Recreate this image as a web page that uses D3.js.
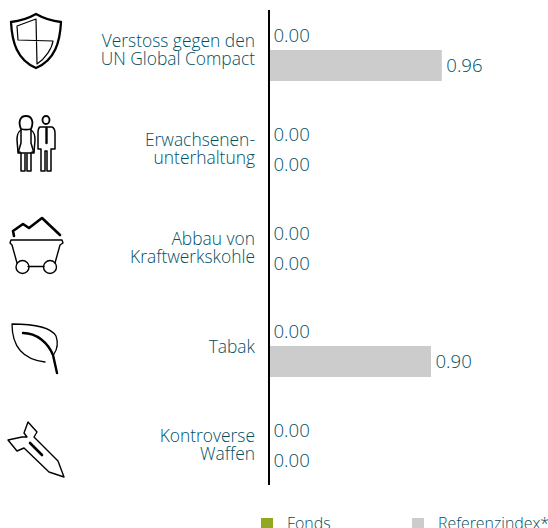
<!DOCTYPE html>
<html>
<head>
<meta charset="utf-8">
<script src="https://cdn.jsdelivr.net/npm/d3@7"></script>
<style>
  html, body { margin: 0; padding: 0; background: #fff; overflow: hidden; }
  text { font-family: "Open Sans", sans-serif; font-weight: 300; fill: #004f63; }
  .label { font-size: 17.4px; }
  .value { font-size: 18.6px; }
  .legend { font-size: 15.9px; }
</style>
</head>
<body>
<div id="chart"></div>
<script>
const categories = ["Verstoss gegen den\nUN Global Compact", "Erwachsenen-\nunterhaltung", "Abbau von\nKraftwerkskohle", "Tabak", "Kontroverse\nWaffen"];
const series = ["Fonds", "Referenzindex*"];
const fonds = [0, 0, 0, 0, 0];
const referenz = [0.96, 0, 0, 0.90, 0];
const colors = ["#94a81f", "#cccccc"];

const width = 548, height = 528;
const x0 = 269;

const svg = d3.select("#chart").append("svg")
  .attr("width", width)
  .attr("height", height)
  .style("display", "block");

let x = d3.scaleLinear().domain([0, 1]).range([x0, x0 + 180]);
let y = d3.scaleBand().domain(categories).range([0, 493.75]);
let inner = d3.scaleBand().domain(series).range([20, 80]); // 2 bars per group

// bars + value labels
series.forEach((s, i) => {
  const vals = i === 0 ? fonds : referenz;
  const rows = categories.map((c, k) => ({ c, v: vals[k] }));
  const top = d => Math.round(y(d.c) + inner(s));

  svg.append("g").selectAll("rect")
    .data(rows)
    .join("rect")
    .attr("x", x(0))
    .attr("y", d => top(d))
    .attr("width", d => x(d.v) - x(0))
    .attr("height", 31)
    .attr("fill", colors[i]);

  svg.append("g").selectAll("text")
    .data(rows)
    .join("text")
    .attr("class", "value")
    .attr("x", d => x(d.v) + 4.5)
    .attr("y", d => top(d) + 22)
    .text(d => d.v.toFixed(2));
});

// axis line
svg.append("line")
  .attr("x1", x0).attr("x2", x0)
  .attr("y1", 10).attr("y2", 485)
  .attr("stroke", "#000")
  .attr("stroke-width", 2);

// category labels, right aligned
categories.forEach(c => {
  const lines = c.split("\n");
  const mid = y(c) + y.bandwidth() / 2;
  svg.append("text")
    .attr("class", "label")
    .attr("text-anchor", "end")
    .selectAll("tspan")
    .data(lines)
    .join("tspan")
    .attr("x", 255)
    .attr("y", (d, i) => mid + 7 + (i - (lines.length - 1) / 2) * 18)
    .text(d => d);
});

// icons
const ink = { fill: "none", stroke: "#000", "stroke-linejoin": "round", "stroke-linecap": "round" };
function icon(paths) {
  const g = svg.append("g");
  paths.forEach(p => {
    const e = g.append("path").attr("d", p[0]).attr("stroke-width", p[1]);
    Object.entries(ink).forEach(([k, v]) => e.attr(k, v));
  });
}
// shield
icon([
  ["M36 14 C29 18 20 21 11 22 C12 42 17 60 36 68 C55 60 60 42 61 22 C52 21 43 18 36 14Z", 2.3],
  ["M36 19 L17 26 L18 40 L53 41 C52 48 46 58 37 64 L36 19", 1.2]
]);
// adults
icon([
  ["M21 129 C18 122 20 116 26 116 C32 116 34 122 31 129 C27 130 25 130 21 129Z", 1.8],
  ["M21 130 C18 132 17 134 17 140 L18 152 L20 152 M31 130 C34 132 35 134 35 140 L34 152 L32 152", 1.5],
  ["M21 130 L21 143 L18 153 L34 153 L31 143 L31 130", 1.5],
  ["M21 153 L21 171 L25 171 L25 154 M27 154 L27 171 L31 171 L31 153", 1.5],
  ["M46 116 A3.5 4 0 1 1 46 124 A3.5 4 0 1 1 46 116Z", 1.8],
  ["M40 127 L52 127 C54 128 55 130 55 133 L55 149 L51 149 L51 171 L47 171 L47 151 L45 151 L45 171 L41 171 L41 149 L38 149 L38 133 C38 130 38 128 40 127Z", 1.5],
  ["M46.5 128 L46.5 143", 2.4]
]);
// coal cart
icon([
  ["M14 236 L13 231 L23 224 L29 228 L42 218 L60 235", 2.6],
  ["M11 240 L62 240 L63 243 L60 245 L55 263 M11 240 L10 243 L12 245 L17 263", 1.4],
  ["M28 266.5 L44 266.5", 1.4],
  ["M29 267 A6.5 6.5 0 1 1 16 267 A6.5 6.5 0 1 1 29 267Z", 1.4],
  ["M56.5 267 A6.5 6.5 0 1 1 43.5 267 A6.5 6.5 0 1 1 56.5 267Z", 1.4]
]);
// leaf
icon([
  ["M45 362 C28 360 12 352 12 324 C30 324 50 326 56 336 C58 342 58 348 54 354", 1.3],
  ["M23 333 C37 333 48 343 53 355 L57 373", 2.4]
]);
// bomb
icon([
  ["M28 422 L37 432 L34 437 L58 461 L64 477 L49 472 L24 448 L17 451 L8 440 L22 437 L27 437 L24 433 Z", 1.4],
  ["M30 443 L42 455", 2.6]
]);

// legend (runs into the bottom edge, as in the source)
const lx = [261, 412];
series.forEach((s, i) => {
  svg.append("rect")
    .attr("x", lx[i]).attr("y", 518)
    .attr("width", 12).attr("height", 11)
    .attr("fill", colors[i]);
  svg.append("text")
    .attr("class", "legend")
    .attr("x", lx[i] + 26).attr("y", 529)
    .text(s);
});
</script>
</body>
</html>
